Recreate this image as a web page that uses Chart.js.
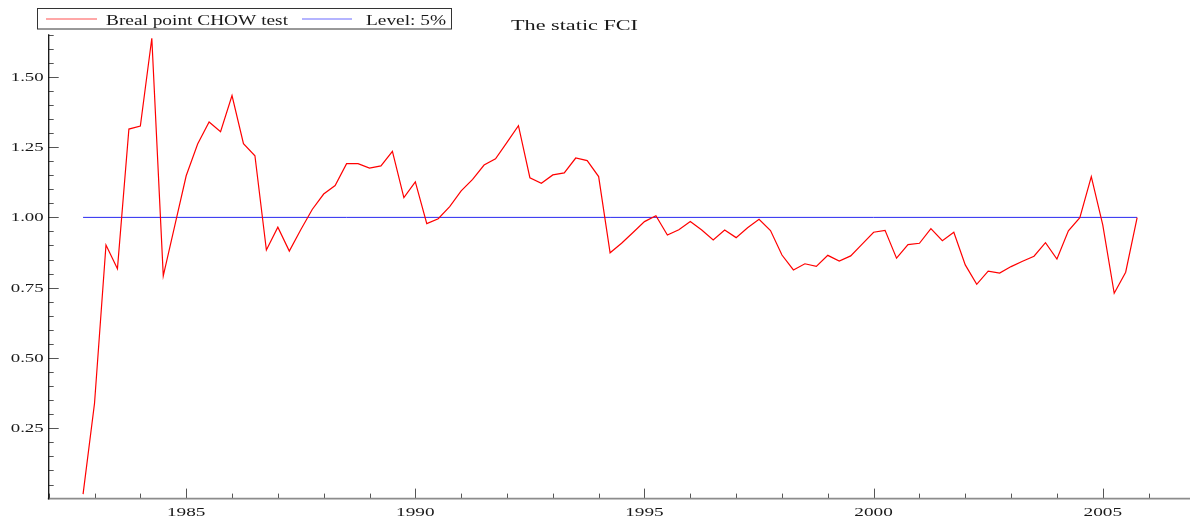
<!DOCTYPE html>
<html>
<head>
<meta charset="utf-8">
<script src="https://cdn.jsdelivr.net/npm/chart.js@4.4.1/dist/chart.umd.min.js"></script>
<style>
  html, body { margin: 0; padding: 0; background: #fff; }
  #wrap { width: 1190px; height: 518px; position: relative; }
</style>
</head>
<body>
<div id="wrap"><canvas id="c"></canvas></div>
<script>
// ---- data ----
const chartTitle = "The static FCI";
const seriesNames = ["Breal point CHOW test", "Level: 5%"];
const quarters = [
  "1982Q4",
  "1983Q1","1983Q2","1983Q3","1983Q4",
  "1984Q1","1984Q2","1984Q3","1984Q4",
  "1985Q1","1985Q2","1985Q3","1985Q4",
  "1986Q1","1986Q2","1986Q3","1986Q4",
  "1987Q1","1987Q2","1987Q3","1987Q4",
  "1988Q1","1988Q2","1988Q3","1988Q4",
  "1989Q1","1989Q2","1989Q3","1989Q4",
  "1990Q1","1990Q2","1990Q3","1990Q4",
  "1991Q1","1991Q2","1991Q3","1991Q4",
  "1992Q1","1992Q2","1992Q3","1992Q4",
  "1993Q1","1993Q2","1993Q3","1993Q4",
  "1994Q1","1994Q2","1994Q3","1994Q4",
  "1995Q1","1995Q2","1995Q3","1995Q4",
  "1996Q1","1996Q2","1996Q3","1996Q4",
  "1997Q1","1997Q2","1997Q3","1997Q4",
  "1998Q1","1998Q2","1998Q3","1998Q4",
  "1999Q1","1999Q2","1999Q3","1999Q4",
  "2000Q1","2000Q2","2000Q3","2000Q4",
  "2001Q1","2001Q2","2001Q3","2001Q4",
  "2002Q1","2002Q2","2002Q3","2002Q4",
  "2003Q1","2003Q2","2003Q3","2003Q4",
  "2004Q1","2004Q2","2004Q3","2004Q4",
  "2005Q1","2005Q2","2005Q3","2005Q4"
];
const chowTest = [
  0.016,0.339,0.902,0.817,1.314,1.325,1.637,0.792,0.970,1.148,
  1.261,1.339,1.305,1.433,1.262,1.219,0.884,0.965,0.880,0.956,
  1.028,1.083,1.113,1.191,1.191,1.175,1.183,1.235,1.070,1.126,
  0.978,0.995,1.038,1.094,1.135,1.186,1.208,1.267,1.326,1.141,
  1.121,1.151,1.158,1.211,1.202,1.145,0.874,0.908,0.946,0.985,
  1.006,0.937,0.956,0.985,0.955,0.920,0.955,0.928,0.963,0.993,
  0.953,0.866,0.813,0.835,0.826,0.865,0.845,0.863,0.905,0.947,
  0.954,0.855,0.903,0.908,0.960,0.917,0.947,0.831,0.762,0.809,
  0.802,0.825,0.844,0.862,0.910,0.852,0.952,0.999,1.145,0.973,
  0.730,0.805,0.999
];
const level5 = 1.0;
const yTickValues = [0.25, 0.50, 0.75, 1.00, 1.25, 1.50];
const xTickValues = [1985, 1990, 1995, 2000, 2005];
const xRange = [1982, 2006.86];
const yRange = [0, 1.651];

// ---- build ----
function qToYear(q) { return parseInt(q.slice(0, 4)) + (parseInt(q.slice(5)) - 1) / 4; }
const chowPoints = quarters.map((q, i) => ({ x: qToYear(q), y: chowTest[i] }));
const levelPoints = [
  { x: qToYear(quarters[0]), y: level5 },
  { x: qToYear(quarters[quarters.length - 1]), y: level5 }
];

const SERIF = '"Liberation Serif", "Times New Roman", serif';

function fitText(ctx, text, x, y, targetW, font, align) {
  ctx.save();
  ctx.font = font;
  const w = ctx.measureText(text).width;
  const sx = targetW / w;
  ctx.translate(x, y);
  ctx.scale(sx, 1);
  ctx.textAlign = align || 'left';
  ctx.fillText(text, 0, 0);
  ctx.restore();
}
function stretchText(ctx, text, x, y, sx, font, align, baseline) {
  ctx.save();
  ctx.font = font;
  ctx.translate(x, y);
  ctx.scale(sx, 1);
  ctx.textAlign = align || 'left';
  ctx.textBaseline = baseline || 'alphabetic';
  ctx.fillText(text, 0, 0);
  ctx.restore();
}
function seg(ctx, x1, y1, x2, y2) {
  ctx.beginPath(); ctx.moveTo(x1, y1); ctx.lineTo(x2, y2); ctx.stroke();
}

const decor = {
  id: 'decor',
  beforeDatasetsDraw(chart) {
    const { ctx, chartArea: a, scales: { x, y } } = chart;
    ctx.save();
    // tick marks (inward)
    ctx.strokeStyle = '#555';
    ctx.lineWidth = 1;
    for (let k = 1; k * 0.05 <= y.max + 1e-9; k++) {
      const py = Math.round(y.getPixelForValue(k * 0.05)) + 0.5;
      const len = (k % 5 === 0) ? 10 : 5;
      seg(ctx, a.left, py, a.left + len, py);
    }
    for (let yr = Math.ceil(x.min); yr <= x.max; yr++) {
      const px = Math.round(x.getPixelForValue(yr)) + 0.5;
      const len = (yr % 5 === 0) ? 10 : 5;
      seg(ctx, px, a.bottom, px, a.bottom - len);
    }
    // axes
    ctx.strokeStyle = '#8c8c8c';
    ctx.lineWidth = 1.6;
    seg(ctx, a.left - 1, a.bottom, chart.width, a.bottom);
    ctx.strokeStyle = '#111';
    ctx.lineWidth = 1.3;
    seg(ctx, a.left, a.top, a.left, a.bottom + 0.8);
    ctx.restore();
  },
  afterDraw(chart) {
    const { ctx, chartArea: a, scales: { x, y } } = chart;
    ctx.save();
    ctx.fillStyle = '#1a1a1a';
    // y labels
    const yFont = '13px ' + SERIF;
    ctx.font = yFont;
    const ySx = 33 / ctx.measureText('0.75').width;
    y.ticks.forEach(t => {
      stretchText(ctx, t.value.toFixed(2), a.left - 5, y.getPixelForValue(t.value) + 0.5, ySx, yFont, 'right', 'middle');
    });
    // x labels
    const xFont = '13px ' + SERIF;
    ctx.font = xFont;
    const xSx = 38.5 / ctx.measureText('1985').width;
    x.ticks.forEach(t => {
      stretchText(ctx, String(t.value), x.getPixelForValue(t.value), 516, xSx, xFont, 'center', 'alphabetic');
    });
    // title
    fitText(ctx, chartTitle, 574.5, 30, 127, '15px ' + SERIF, 'center');
    // legend
    ctx.strokeStyle = '#333';
    ctx.lineWidth = 1;
    ctx.strokeRect(37.5, 8.5, 414, 20.5);
    ctx.lineWidth = 1;
    ctx.strokeStyle = 'rgba(255,60,60,0.9)';
    seg(ctx, 46, 19, 97, 19);
    ctx.strokeStyle = 'rgba(90,90,255,0.9)';
    seg(ctx, 302, 19, 352, 19);
    ctx.fillStyle = '#1a1a1a';
    fitText(ctx, chart.data.datasets[0].label, 106, 24.5, 182, '14px ' + SERIF, 'left');
    fitText(ctx, chart.data.datasets[1].label, 366, 24.5, 80, '14px ' + SERIF, 'left');
    ctx.restore();
  }
};

new Chart(document.getElementById('c'), {
  type: 'line',
  data: {
    datasets: [
      {
        label: seriesNames[0],
        data: chowPoints,
        borderColor: 'rgb(255,0,0)',
        borderWidth: 1.2,
        pointRadius: 0,
        tension: 0,
        fill: false,
        order: 0
      },
      {
        label: seriesNames[1],
        data: levelPoints,
        borderColor: 'rgb(40,40,240)',
        borderWidth: 1,
        pointRadius: 0,
        tension: 0,
        fill: false,
        order: 1
      }
    ]
  },
  options: {
    responsive: true,
    maintainAspectRatio: false,
    animation: false,
    devicePixelRatio: 1,
    layout: { padding: { top: 34.3, right: 2, left: 0, bottom: 0 } },
    plugins: { legend: { display: false }, title: { display: false }, tooltip: { enabled: false } },
    scales: {
      x: {
        type: 'linear',
        min: xRange[0],
        max: xRange[1],
        grid: { display: false, drawTicks: false },
        border: { display: false },
        ticks: { display: false },
        afterBuildTicks: s => { s.ticks = xTickValues.map(v => ({ value: v })); },
        afterFit: s => { s.height = 19.4; }
      },
      y: {
        type: 'linear',
        min: yRange[0],
        max: yRange[1],
        grid: { display: false, drawTicks: false },
        border: { display: false },
        ticks: { display: false },
        afterBuildTicks: s => { s.ticks = yTickValues.map(v => ({ value: v })); },
        afterFit: s => { s.width = 48.7; }
      }
    }
  },
  plugins: [decor]
});
</script>
</body>
</html>
